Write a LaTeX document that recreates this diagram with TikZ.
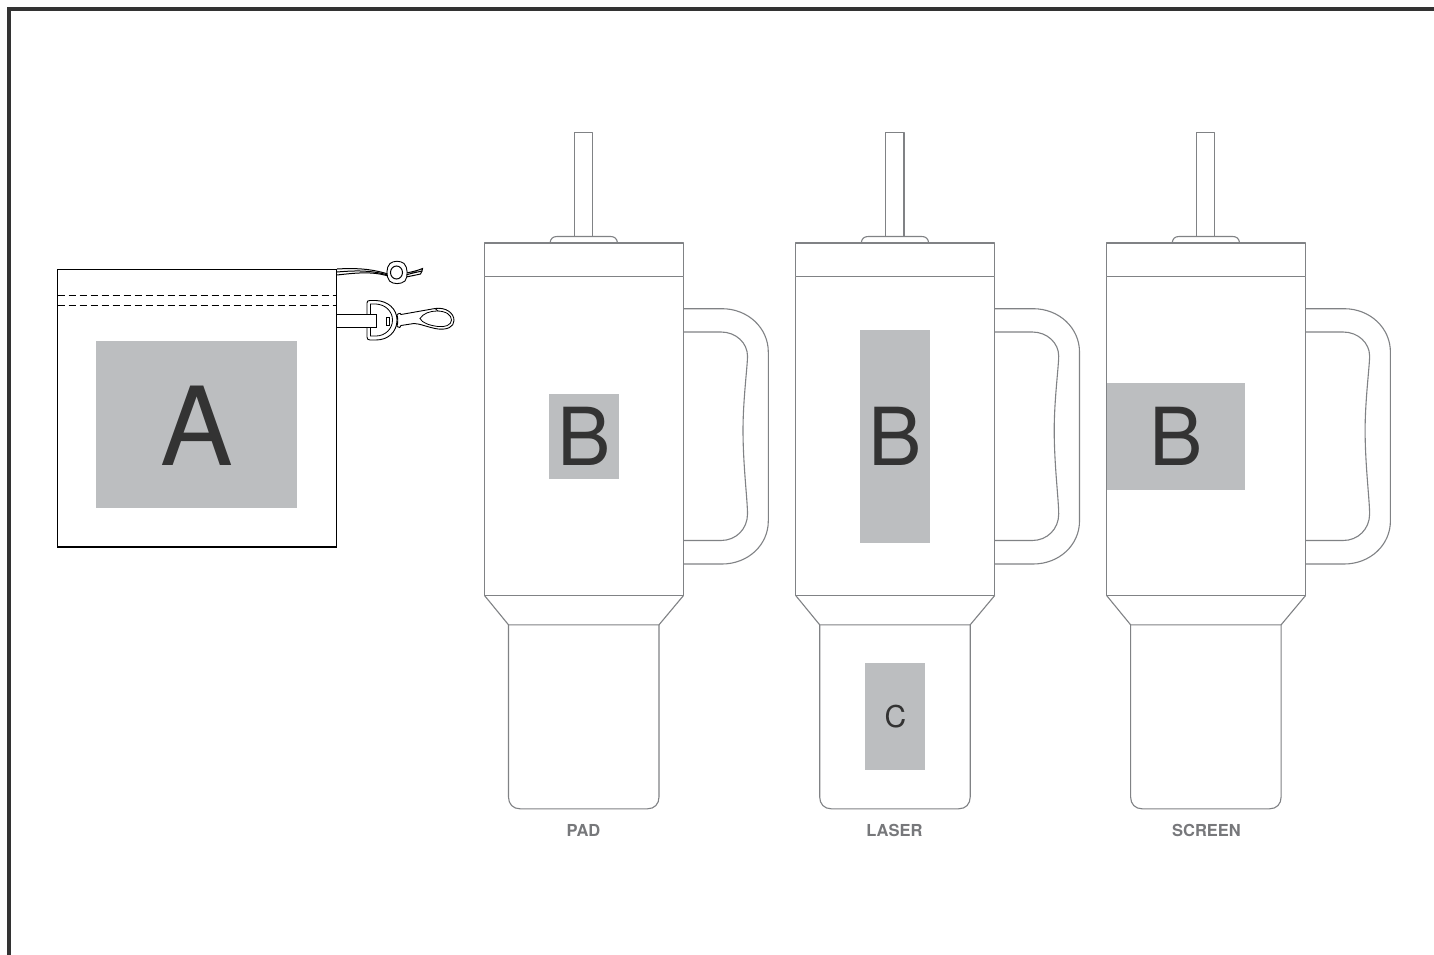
\documentclass[tikz,border=0pt]{standalone}
\usepackage{fontspec}
\setmainfont{TeX Gyre Heros}
\definecolor{lineg}{HTML}{808285}
\definecolor{printg}{HTML}{BCBEC0}
\definecolor{ink}{HTML}{333333}
\definecolor{labelg}{HTML}{77787B}
\tikzset{
  tumblerline/.style={draw=lineg,line width=1.1pt,line join=round},
  bagline/.style={draw=black,line width=1.2pt},
  clipline/.style={draw=black,line width=0.9pt,fill=white},
  printbox/.style={fill=printg,draw=none},
  bigletter/.style={text=ink,inner sep=0pt,anchor=center},
  viewlabel/.style={text=labelg,font=\fontsize{16.5}{16.5}\selectfont\bfseries,inner sep=0pt}
}
\newcommand{\tumbler}[1]{%
\begin{scope}[xshift=#1pt]
  \path[tumblerline] (574.7,236.5) -- (574.7,132.4) -- (592.8,132.4) -- (592.8,236.5);
  \path[tumblerline] (550,243) .. controls (550.5,238.5) and (553,236.5) .. (557,236.5) -- (610.5,236.5) .. controls (614.5,236.5) and (617,238.5) .. (617.5,243);
  \path[tumblerline] (484.5,243) rectangle (683.5,276.8);
  \path[tumblerline] (484.5,276.8) -- (484.5,595.5) -- (683.5,595.5) -- (683.5,276.8);
  \path[tumblerline] (484.5,595.5) -- (508.5,624.8) -- (659,624.8) -- (683.5,595.5);
  \path[tumblerline] (508.5,624.8) -- (508.5,797) .. controls (508.5,804) and (513,808.8) .. (520,808.8) -- (647.5,808.8) .. controls (654.5,808.8) and (659,804) .. (659,797) -- (659,624.8);
  \path[tumblerline] (683.5,308.7) -- (722,308.7) .. controls (748,308.7) and (768.3,328) .. (768.3,352) -- (768.3,521) .. controls (768.3,545) and (748,564) .. (722,564) -- (683.5,564);
  \path[tumblerline] (683.5,332) -- (721,332) .. controls (736,332) and (747.5,343) .. (747.5,356) .. controls (747.5,366) and (743,400) .. (743,430) .. controls (743,465) and (747.5,500) .. (747.5,514) .. controls (747.5,529) and (736,540.5) .. (721,540.5) -- (683.5,540.5);
\end{scope}}
\begin{document}
\begin{tikzpicture}[x=1pt,y=-1pt]
\useasboundingbox (0,0) rectangle (1434,955);
\fill[white] (0,0) rectangle (1434,955);
% frame
\draw[ink,line width=4pt] (9,955) -- (9,9) -- (1434,9);
% bag
\draw[bagline] (57.5,269.5) rectangle (336.5,547);
\draw[black,line width=1pt,dash pattern=on 7pt off 4pt] (57.5,295) -- (336.5,295);
\draw[black,line width=1pt,dash pattern=on 7pt off 4pt] (57.5,305) -- (336.5,305);
\node[printbox,minimum width=201pt,minimum height=167pt,inner sep=0pt] (boxA) at (196.5,424.5) {};
\node[bigletter,font=\fontsize{109}{109}\selectfont] (letterA) at (197,425.5) {A};
% cords
\draw[black,line width=1pt] (337,269) .. controls (355,268) and (370,268.5) .. (388,274);
\draw[black,line width=1pt] (337,272) .. controls (355,270.5) and (370,270) .. (388,275);
\draw[black,line width=1pt] (337,275) .. controls (355,273) and (372,271) .. (388,276);
\draw[black,line width=1pt] (406,273) .. controls (412,272) and (418,270.5) .. (422.5,268.5) -- (422,271) .. controls (418,272) and (412,273) .. (406,275);
\draw[black,line width=1pt] (422,271) -- (420.5,274) .. controls (416,275) and (411,276) .. (406,277);
% toggle
\draw[clipline] (390,263.5) .. controls (394,260.5) and (400,260.5) .. (404,263.5) .. controls (408,267) and (408,277) .. (405,281) .. controls (401,284.5) and (393,284.5) .. (389.5,281) .. controls (386,277) and (386,267) .. (390,263.5) -- cycle;
\draw[black,line width=1pt] (396.5,272.5) ellipse[x radius=6,y radius=6.5];
% snap clip: ring
\draw[clipline] (367,303) .. controls (367,301) and (368,300.5) .. (370,300.5) -- (376,300.5) .. controls (388,301) and (397,309) .. (397,320) .. controls (397,332) and (388,340) .. (376,340) -- (370,340) .. controls (368,340) and (367,339) .. (367,337) -- cycle;
\draw[black,line width=0.8pt,fill=white] (370.5,304) -- (376,304) .. controls (385,304.5) and (392.5,311) .. (392.5,320) .. controls (392.5,329) and (385,336) .. (376,336) -- (370.5,336) -- cycle;
\draw[clipline] (386,317) rectangle (389,325);
% snap clip: hook
\draw[clipline] (397,314.5) .. controls (400,313) and (401,313) .. (401,314.5) -- (435,308.5) .. controls (446,307) and (454,313) .. (454,320.5) .. controls (454,327) and (447,330) .. (438,329) .. controls (428,327.5) and (420,323.5) .. (414,323.5) -- (401,325.5) .. controls (401,328) and (399,328) .. (397,326.5) .. controls (398,322) and (398,319) .. (397,314.5) -- cycle;
\draw[black,line width=0.8pt] (420,318.5) .. controls (423,313.5) and (430,311) .. (437,311) .. controls (446,311) and (451.5,315) .. (451.5,320) .. controls (451.5,325) and (445,327.5) .. (438,326.5) .. controls (430,325.5) and (422,323) .. (420,318.5) -- cycle;
\draw[black,line width=0.8pt] (435,308.5) -- (438,311);
\draw[clipline] (336.5,314) rectangle (376,327);
% tumblers
\tumbler{0}
\tumbler{311.2}
\tumbler{622.1}
% prints
\node[printbox,minimum width=70pt,minimum height=85pt,inner sep=0pt] (boxB1) at (584,436.5) {};
\node[printbox,minimum width=70pt,minimum height=213pt,inner sep=0pt] (boxB2) at (895,436.5) {};
\node[printbox,minimum width=138pt,minimum height=107pt,inner sep=0pt] (boxB3) at (1176,436.5) {};
\node[printbox,minimum width=60pt,minimum height=107pt,inner sep=0pt] (boxC) at (895,716.5) {};
\node[bigletter,font=\fontsize{80}{80}\selectfont] (letterB1) at (584,436.5) {B};
\node[bigletter,font=\fontsize{80}{80}\selectfont] (letterB2) at (895,436.5) {B};
\node[bigletter,font=\fontsize{80}{80}\selectfont] (letterB3) at (1176,436.5) {B};
\node[bigletter,font=\fontsize{30}{30}\selectfont] (letterC) at (895.5,717) {C};
% labels
\node[viewlabel] (pad) at (583.5,830) {PAD};
\node[viewlabel] (laser) at (894.5,830) {LASER};
\node[viewlabel] (screen) at (1206.5,830) {SCREEN};
\end{tikzpicture}
\end{document}
